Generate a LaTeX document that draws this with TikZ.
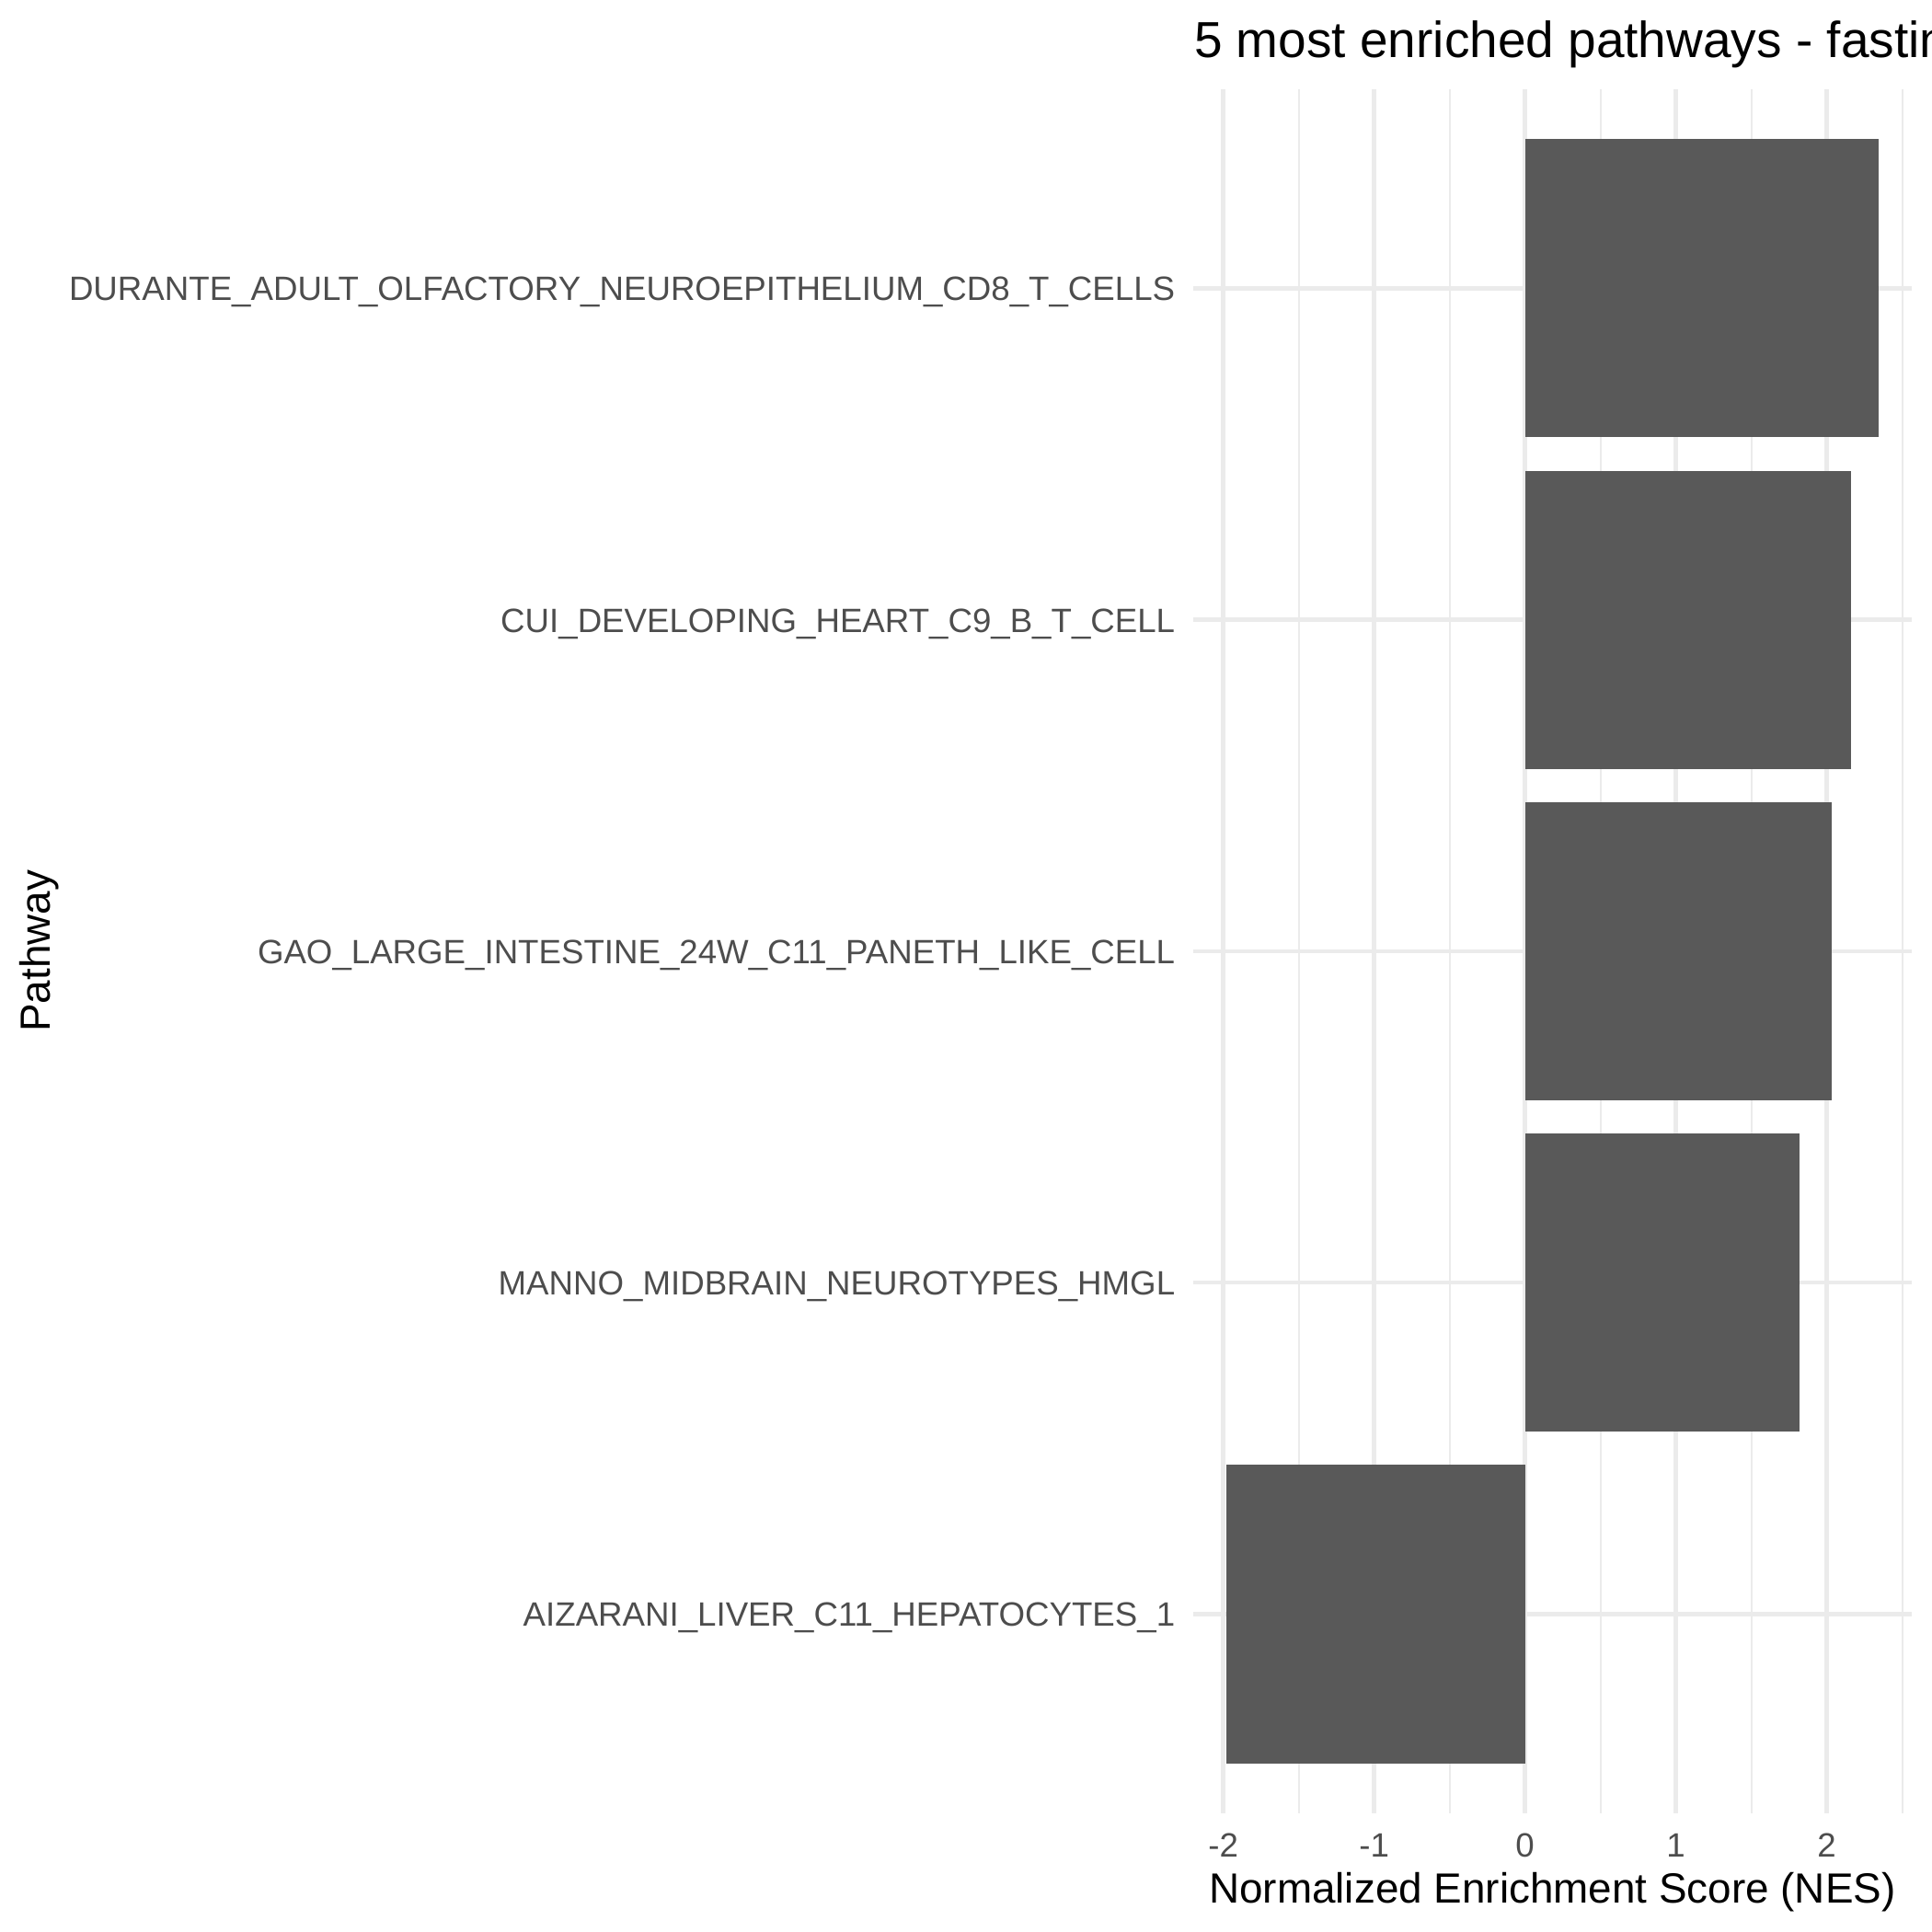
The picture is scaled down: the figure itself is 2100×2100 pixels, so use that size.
\documentclass[tikz,border=0pt]{standalone}
\usepackage{fontspec}
\setmainfont{Liberation Sans}
\definecolor{gridgrey}{HTML}{EBEBEB}
\definecolor{bargrey}{HTML}{595959}
\definecolor{axisgrey}{HTML}{4D4D4D}

\begin{document}
\begin{tikzpicture}[x=0.2409pt,y=-0.2409pt,
		majorline/.style={gridgrey,line width=1.07pt},
		minorline/.style={gridgrey,line width=0.53pt},
		nesbar/.style={fill=bargrey,draw=none},
		pathlabel/.style={anchor=base east,inner sep=0pt,text=axisgrey,font=\fontsize{8.8bp}{10bp}\selectfont},
		nestick/.style={anchor=base,inner sep=0pt,text=axisgrey,font=\fontsize{8.8bp}{10bp}\selectfont}]
			\useasboundingbox (0,0) rectangle (2100,2100);
			\foreach \v in {-1.5,-0.5,0.5,1.5,2.5}
				\draw[minorline] ({1657.6+164*\v},96.8) -- ({1657.6+164*\v},1970.7);
			\foreach \v in {-2,-1,0,1,2}
				\draw[majorline] ({1657.6+164*\v},96.8) -- ({1657.6+164*\v},1970.7);
			\foreach \r in {0,...,4}
				\draw[majorline] (1297.2,{313.3+360.3*\r}) -- (2077.6,{313.3+360.3*\r});
			\foreach \v [count=\r from 0] in {2.344,2.161,2.033,1.820,-1.981}
				\fill[nesbar] (1657.6,{313.3+360.3*\r-162.1}) rectangle ({1657.6+164*\v},{313.3+360.3*\r+162.1});
			\foreach \t [count=\r from 0] in {DURANTE\_ADULT\_OLFACTORY\_NEUROEPITHELIUM\_CD8\_T\_CELLS,
					CUI\_DEVELOPING\_HEART\_C9\_B\_T\_CELL,
					GAO\_LARGE\_INTESTINE\_24W\_C11\_PANETH\_LIKE\_CELL,
					MANNO\_MIDBRAIN\_NEUROTYPES\_HMGL,
					AIZARANI\_LIVER\_C11\_HEPATOCYTES\_1}
				\node[pathlabel] (path\r) at (1278,{313.3+360.3*\r+13.4}) {\t};
			\foreach \v [count=\i] in {-2,-1,0,1,2}
				\node[nestick] (tick\i) at ({1657.6+164*\v},2018) {\v};
			\node[anchor=base,inner sep=0pt,font=\fontsize{11bp}{13bp}\selectfont] (xtitle) at (1687.4,2068.3) {Normalized Enrichment Score (NES)};
			\node[anchor=base,rotate=90,inner sep=0pt,font=\fontsize{11bp}{13bp}\selectfont] (ytitle) at (55,1033.7) {Pathway};
			\node[anchor=base west,inner sep=0pt,font=\fontsize{13.2bp}{15bp}\selectfont] (title) at (1297.2,62.7) {5 most enriched pathways - fasting};
		\end{tikzpicture}
\end{document}
